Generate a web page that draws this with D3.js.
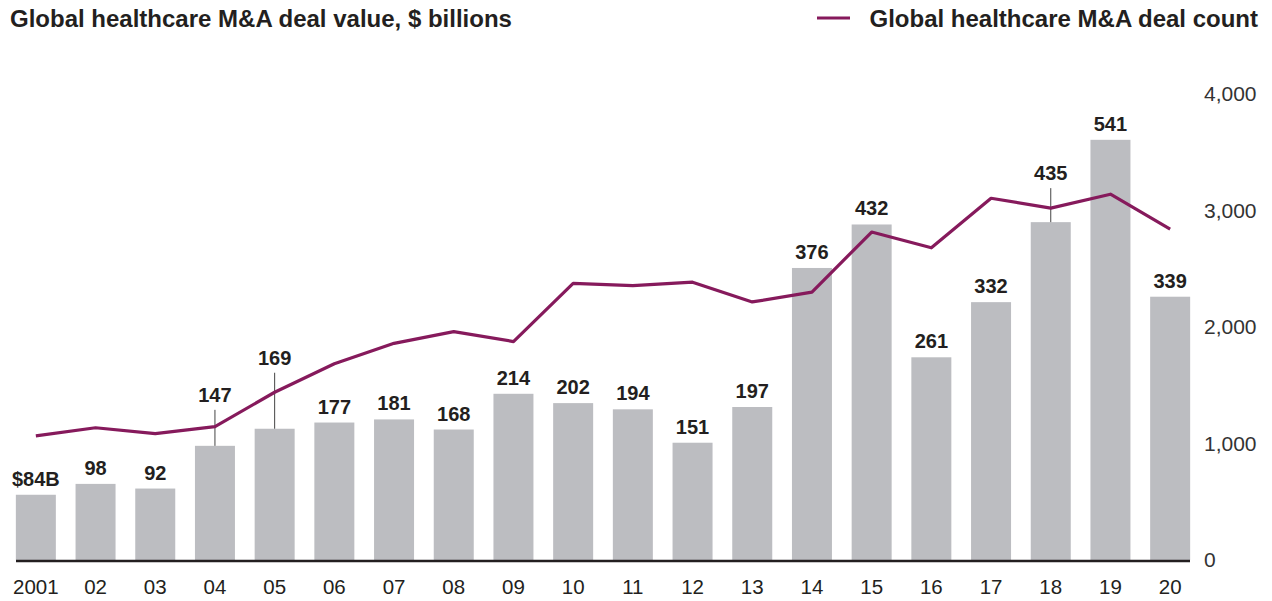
<!DOCTYPE html>
<html>
<head>
<meta charset="utf-8">
<script src="https://cdn.jsdelivr.net/npm/d3@7"></script>
<style>
  body { margin: 0; background: #fff; }
  svg { display: block; font-family: "Liberation Sans", Arial, sans-serif; }
</style>
</head>
<body>
<div id="chart"></div>
<script>
// data
var years      = ["2001","02","03","04","05","06","07","08","09","10","11","12","13","14","15","16","17","18","19","20"];
var dealValue  = [84, 98, 92, 147, 169, 177, 181, 168, 214, 202, 194, 151, 197, 376, 432, 261, 332, 435, 541, 339];
var dealCount  = [1065, 1135, 1085, 1145, 1440, 1685, 1860, 1960, 1875, 2375, 2355, 2385, 2215, 2300, 2815, 2680, 3105, 3020, 3140, 2840];
var countTicks = [0, 1000, 2000, 3000, 4000];

// labels that sit higher with a leader line (px lift)
var lift = {"04": 36, "05": 56, "18": 34};

var W = 1272, H = 601;
var base = 560, plotTop = 94;

var svg = d3.select("#chart").append("svg")
    .attr("width", W)
    .attr("height", H);

var x = d3.scaleBand()
  .domain(years)
  .range([6, 1200])
  .paddingInner(0.33)
  .paddingOuter(0.165);

// bars and line share the plot height but use separate scales
var yVal = d3.scaleLinear().domain([0, 600]).range([base, plotTop]);
var yCnt = d3.scaleLinear().domain([0, 4000]).range([base, plotTop]);

var barData = years.map(function(y, i) { return {year: y, value: dealValue[i], count: dealCount[i]}; });

// bars
svg.selectAll("rect.bar")
  .data(barData)
  .enter().append("rect")
    .attr("class", "bar")
    .attr("x", function(d) { return x(d.year); })
    .attr("y", function(d) { return yVal(d.value); })
    .attr("width", x.bandwidth())
    .attr("height", function(d) { return base - yVal(d.value); })
    .attr("fill", "#bcbdc1");

// leader lines
svg.selectAll("line.leader")
  .data(barData.filter(function(d) { return lift[d.year]; }))
  .enter().append("line")
    .attr("x1", function(d) { return x(d.year) + x.bandwidth() / 2; })
    .attr("x2", function(d) { return x(d.year) + x.bandwidth() / 2; })
    .attr("y1", function(d) { return yVal(d.value); })
    .attr("y2", function(d) { return yVal(d.value) - lift[d.year]; })
    .attr("stroke", "#444")
    .attr("stroke-width", 1);

// deal count line
var line = d3.line()
  .x(function(d) { return x(d.year) + x.bandwidth() / 2; })
  .y(function(d) { return yCnt(d.count); });

svg.append("path")
  .datum(barData)
  .attr("d", line)
  .attr("fill", "none")
  .attr("stroke", "#861a5c")
  .attr("stroke-width", 3.2)
  .attr("stroke-linejoin", "round");

// value labels
svg.selectAll("text.val")
  .data(barData)
  .enter().append("text")
    .attr("class", "val")
    .attr("x", function(d) { return x(d.year) + x.bandwidth() / 2; })
    .attr("y", function(d) { return yVal(d.value) - 9 - (lift[d.year] ? lift[d.year] - 1 : 0); })
    .attr("text-anchor", "middle")
    .attr("font-size", 20)
    .attr("font-weight", "bold")
    .attr("fill", "#231f20")
    .text(function(d, i) { return i === 0 ? "$" + d.value + "B" : d.value; });

// x axis baseline
svg.append("line")
  .attr("x1", x.range()[0] + 10)
  .attr("x2", x.range()[1] - 10)
  .attr("y1", base + 1)
  .attr("y2", base + 1)
  .attr("stroke", "#231f20")
  .attr("stroke-width", 2.5);

// year labels
svg.selectAll("text.year")
  .data(years)
  .enter().append("text")
    .attr("class", "year")
    .attr("x", function(d) { return x(d) + x.bandwidth() / 2; })
    .attr("y", 594)
    .attr("text-anchor", "middle")
    .attr("font-size", 20.5)
    .attr("fill", "#231f20")
    .text(function(d) { return d; });

// right axis (deal count)
var yAxis = svg.append("g")
  .attr("transform", "translate(1204,0)")
  .call(d3.axisRight(yCnt).tickValues(countTicks).tickSize(0).tickPadding(0).tickFormat(d3.format(",")));
yAxis.select(".domain").remove();
yAxis.selectAll("text")
  .attr("font-size", 21)
  .attr("font-family", "Liberation Sans, Arial, sans-serif")
  .attr("fill", "#333");

// title
svg.append("text")
  .attr("x", 10)
  .attr("y", 27)
  .attr("font-size", 24)
  .attr("font-weight", "bold")
  .attr("fill", "#231f20")
  .text("Global healthcare M&A deal value, $ billions");

// legend
svg.append("line")
  .attr("x1", 817).attr("x2", 850)
  .attr("y1", 18).attr("y2", 18)
  .attr("stroke", "#861a5c")
  .attr("stroke-width", 3.2);
svg.append("text")
  .attr("x", 1258)
  .attr("y", 27)
  .attr("text-anchor", "end")
  .attr("font-size", 24)
  .attr("font-weight", "bold")
  .attr("fill", "#231f20")
  .text("Global healthcare M&A deal count");
</script>
</body>
</html>
